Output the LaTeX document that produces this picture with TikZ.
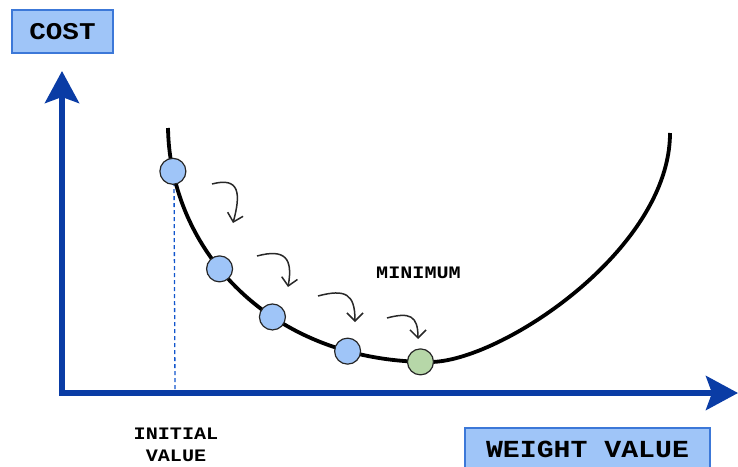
\documentclass[tikz,border=0pt]{standalone}
\usepackage{fontspec}
\setmonofont{Liberation Mono}[FakeStretch=1.15]
\usetikzlibrary{arrows.meta}
\definecolor{axisblue}{RGB}{10,60,165}
\definecolor{boxfill}{RGB}{159,197,248}
\definecolor{boxline}{RGB}{60,120,216}
\definecolor{ballblue}{RGB}{159,197,248}
\definecolor{ballgreen}{RGB}{182,215,168}
\definecolor{dashblue}{RGB}{17,85,204}
\definecolor{arrowgray}{RGB}{40,40,40}
\tikzset{
  labelbox/.style={draw=boxline, line width=1.2pt, fill=boxfill, inner sep=0pt, font=\ttfamily\bfseries},
  axisline/.style={draw=axisblue, line width=5.5pt, -{Stealth[length=32pt,width=34pt,inset=6pt]}},
  curveline/.style={draw=black, line width=3.8pt},
  ball/.style={circle, draw=black!85, line width=1.2pt, minimum size=26pt, inner sep=0pt},
  stepdown/.style={draw=arrowgray, line width=1.5pt, -{Straight Barb[length=8pt,width=16pt]}},
  smalltext/.style={font=\ttfamily\bfseries\fontsize{17.5}{22}\selectfont, align=center}
}
\begin{document}
\begin{tikzpicture}[x=1pt,y=-1pt]
\useasboundingbox (0,0) rectangle (738,466);
% label boxes
\node[labelbox, minimum width=101pt, minimum height=43pt, font=\ttfamily\bfseries\fontsize{24}{26}\selectfont] (cost) at (62.5,31.5) {COST};
\node[labelbox, minimum width=245pt, minimum height=43pt, font=\ttfamily\bfseries\fontsize{24.5}{28}\selectfont] (weight) at (587.5,449.5) {WEIGHT VALUE};
% axes
\coordinate (origin) at (62,393);
\coordinate (ytip) at (62,71);
\coordinate (xtip) at (738,393);
\draw[axisline] (62,395.75) -- (ytip);
\draw[axisline] (59.25,393) -- (xtip);
% curve with points
\coordinate (dashfoot) at (175,391);
\draw[dashblue, line width=1.3pt, dash pattern=on 4pt off 3pt] (174,175) -- (dashfoot);
\draw[curveline] (168,128) .. controls (170,250) and (270,362) .. (430,362)
  node[ball, fill=ballblue, pos=0.12] (b1) {}
  node[ball, fill=ballblue, pos=0.42] (b2) {}
  node[ball, fill=ballblue, pos=0.61] (b3) {}
  node[ball, fill=ballblue, pos=0.815] (b4) {}
  node[ball, fill=ballgreen, pos=0.98] (b5) {}
  .. controls (500,362) and (670,250) .. (670,133);
% step arrows
\coordinate (a1s) at (212,184); \coordinate (a1e) at (233,223);
\coordinate (a2s) at (257,256); \coordinate (a2e) at (288,287);
\coordinate (a3s) at (318,296); \coordinate (a3e) at (355,322);
\coordinate (a4s) at (387,318); \coordinate (a4e) at (418,339);
\draw[stepdown] (a1s) to[out=15, in=75, looseness=1.7] (a1e);
\draw[stepdown] (a2s) to[out=15, in=80, looseness=1.7] (a2e);
\draw[stepdown] (a3s) to[out=15, in=90, looseness=1.6] (a3e);
\draw[stepdown] (a4s) to[out=15, in=90, looseness=1.6] (a4e);
% texts
\node[smalltext] (minimum) at (418.5,273) {MINIMUM};
\node[smalltext] (initial) at (176,445) {INITIAL\\VALUE};
\end{tikzpicture}
\end{document}
